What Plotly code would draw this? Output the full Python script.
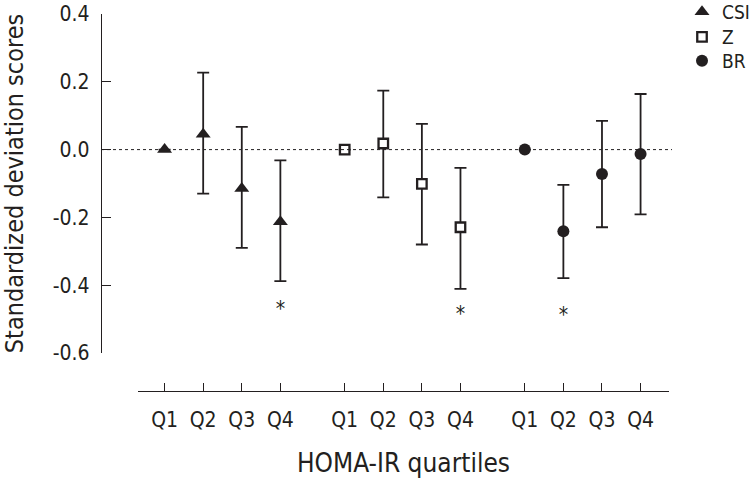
import plotly.graph_objects as go

quartiles = ["Q1", "Q2", "Q3", "Q4"]
series_names = ["CSI", "Z", "BR"]

csi_mean = [0.0, 0.045, -0.115, -0.213]
csi_upper = [None, 0.227, 0.067, -0.032]
csi_lower = [None, -0.130, -0.290, -0.388]

z_mean = [0.0, 0.018, -0.101, -0.229]
z_upper = [None, 0.174, 0.076, -0.054]
z_lower = [None, -0.141, -0.280, -0.411]

br_mean = [0.0, -0.241, -0.072, -0.013]
br_upper = [None, -0.104, 0.085, 0.164]
br_lower = [None, -0.379, -0.229, -0.191]

# significance markers: (series index, quartile index, y of asterisk)
sig_series = [0, 1, 2]
sig_quartile = [3, 3, 1]
sig_y = [-0.474, -0.490, -0.493]

y_ticks = [0.4, 0.2, 0.0, -0.2, -0.4, -0.6]
y_ticklabels = ["0.4", "0.2", "0.0", "-0.2", "-0.4", "-0.6"]

INK = "#231f20"
FONT = "DejaVu Sans Condensed, Liberation Sans Narrow, sans-serif"
GROUP_STEP = 4 + 2 / 3

means = [csi_mean, z_mean, br_mean]
uppers = [csi_upper, z_upper, br_upper]
lowers = [csi_lower, z_lower, br_lower]
symbols = [
    dict(symbol="triangle-up", size=13, color=INK, line=dict(width=0)),
    dict(symbol="square", size=9.5, color="white", line=dict(width=2.3, color=INK)),
    dict(symbol="circle", size=12, color=INK, line=dict(width=0)),
]
legend_ids = ["legend", "legend2", "legend3"]
legend_rows_px = [12, 37, 61]


def xpos(g, i):
    return g * GROUP_STEP + i


fig = go.Figure()
for g, name in enumerate(series_names):
    xs = [xpos(g, i) for i in range(len(quartiles))]
    plus = [None if u is None else u - m for u, m in zip(uppers[g], means[g])]
    minus = [None if l is None else m - l for l, m in zip(lowers[g], means[g])]
    fig.add_trace(go.Scatter(
        x=xs, y=means[g], mode="markers", name=name, legend=legend_ids[g],
        marker=symbols[g],
        error_y=dict(type="data", array=plus, arrayminus=minus, symmetric=False,
                     color=INK, thickness=1.8, width=6),
    ))

fig.add_trace(go.Scatter(
    x=[xpos(g, q) for g, q in zip(sig_series, sig_quartile)],
    y=sig_y, mode="text", text=["*"] * len(sig_y),
    textfont=dict(size=21, color=INK, family=FONT),
    textposition="middle center", showlegend=False, hoverinfo="skip",
))

fig.add_shape(type="line", xref="paper", yref="y", x0=0, x1=1, y0=0, y1=0,
              line=dict(color=INK, width=1, dash="3px,3px"))

tickvals = [xpos(g, i) for g in range(3) for i in range(4)]
ticktext = quartiles * 3

PLOT_BOTTOM = 391
PLOT_H = 377
legends = {}
for lid, py in zip(legend_ids, legend_rows_px):
    legends[lid] = dict(
        x=(682 - 101) / 571, y=(PLOT_BOTTOM - py) / PLOT_H, xanchor="left", yanchor="middle",
        font=dict(size=19, family=FONT, color=INK),
        bgcolor="rgba(0,0,0,0)", borderwidth=0,
    )

fig.update_layout(
    width=752, height=483,
    margin=dict(l=101, r=80, t=14, b=92, autoexpand=False),
    plot_bgcolor="white", paper_bgcolor="white",
    font=dict(family=FONT, color=INK, size=20),
    showlegend=True,
    xaxis=dict(
        domain=[37 / 571, 568 / 571], anchor="free", position=0,
        range=[-0.689, 13.07], tickmode="array", tickvals=tickvals, ticktext=ticktext,
        ticks="inside", ticklen=8, tickwidth=1, tickcolor=INK,
        showline=True, linecolor=INK, linewidth=1.3, showgrid=False, zeroline=False,
        tickfont=dict(size=21, family=FONT, color=INK),
        ticklabelstandoff=10,
        title=dict(text="HOMA-IR quartiles", font=dict(size=26, family=FONT, color=INK), standoff=22),
    ),
    yaxis=dict(
        domain=[38 / 377, 1], anchor="free", position=0,
        range=[-0.6, 0.4], tickmode="array", tickvals=y_ticks, ticktext=y_ticklabels,
        ticks="inside", ticklen=9, tickwidth=1, tickcolor=INK,
        showline=True, linecolor=INK, linewidth=1.3, showgrid=False, zeroline=False,
        tickfont=dict(size=21, family=FONT, color=INK),
        ticklabelstandoff=7,
        title=dict(text="Standardized deviation scores", font=dict(size=25, family=FONT, color=INK), standoff=30),
    ),
    **legends,
)

fig.write_html("out.html", config={"displayModeBar": False},
               post_script="document.body.style.margin='0';")
